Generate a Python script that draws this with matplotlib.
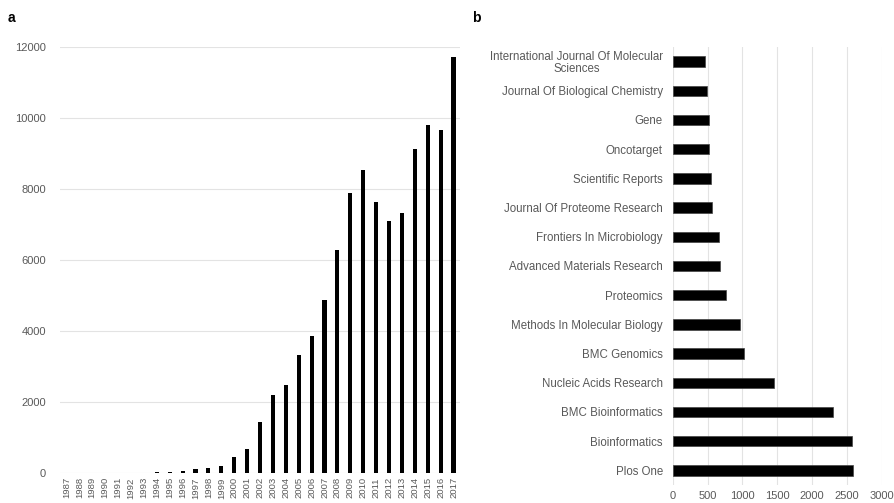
import matplotlib
matplotlib.use("Agg")
import matplotlib.pyplot as plt

plt.rcParams['font.family'] = ['Liberation Sans', 'DejaVu Sans']

years = [str(y) for y in range(1987, 2018)]
counts = [0, 0, 0, 0, 0, 0, 0, 15, 25, 56, 113, 141, 207, 441, 676, 1427, 2188, 2470,
          3324, 3859, 4880, 6290, 7880, 8540, 7640, 7110, 7320, 9130, 9800, 9660, 11710]

journals = ["International Journal Of Molecular\nSciences", "Journal Of Biological Chemistry",
            "Gene", "Oncotarget", "Scientific Reports", "Journal Of Proteome Research",
            "Frontiers In Microbiology", "Advanced Materials Research", "Proteomics",
            "Methods In Molecular Biology", "BMC Genomics", "Nucleic Acids Research",
            "BMC Bioinformatics", "Bioinformatics", "Plos One"]
journal_counts = [469, 498, 517, 515, 545, 569, 665, 684, 761, 967, 1029, 1455, 2297, 2574, 2584]

text_col = "#595959"
grid_col = "#e3e3e3"

fig = plt.figure(figsize=(8.94, 5.03), dpi=100)
W, H = 894, 503

# Panel a
axa = fig.add_axes([60 / W, 1 - 473 / H, 400 / W, 426 / H])
xa = list(range(len(years)))
axa.bar(xa, counts, width=0.32, color="black", zorder=3)
axa.set_xlim(-0.5, len(years) - 0.5)
axa.set_ylim(0, 12000)
axa.set_yticks([0, 2000, 4000, 6000, 8000, 10000, 12000])
axa.set_xticks(xa)
axa.set_xticklabels(years, rotation=90, fontsize=6.8, color=text_col)
axa.tick_params(axis='y', labelsize=8, colors=text_col, length=0, pad=10)
axa.tick_params(axis='x', length=0, pad=3)
axa.grid(axis='y', color=grid_col, linewidth=0.8, zorder=0)
for s in axa.spines.values():
    s.set_visible(False)

# Panel b
axb = fig.add_axes([672.7 / W, 1 - 485 / H, 209 / W, 438 / H])
yb = list(range(len(journals)))
axb.barh(yb, journal_counts, height=0.36, color="black", edgecolor="#444444",
         linewidth=0.5, zorder=3)
axb.set_ylim(len(journals) - 0.5, -0.5)
axb.set_xlim(0, 3000)
axb.set_xticks([0, 500, 1000, 1500, 2000, 2500, 3000])
axb.set_yticks(yb)
axb.set_yticklabels(journals, fontsize=8.3, color=text_col, linespacing=1.0)
for lbl in axb.get_yticklabels():
    lbl.set_horizontalalignment('right')
    lbl.set_multialignment('center')
axb.tick_params(axis='x', labelsize=8, colors=text_col, length=0, pad=4)
axb.tick_params(axis='y', length=0, pad=7)
axb.grid(axis='x', color=grid_col, linewidth=0.8, zorder=0)
for s in axb.spines.values():
    s.set_visible(False)

fig.text(8 / W, 1 - 18 / H, "a", fontsize=10, fontweight='bold', va='center', ha='left')
fig.text(472 / W, 1 - 18 / H, "b", fontsize=10, fontweight='bold', va='center', ha='left')

fig.savefig("out.png", dpi=100)
